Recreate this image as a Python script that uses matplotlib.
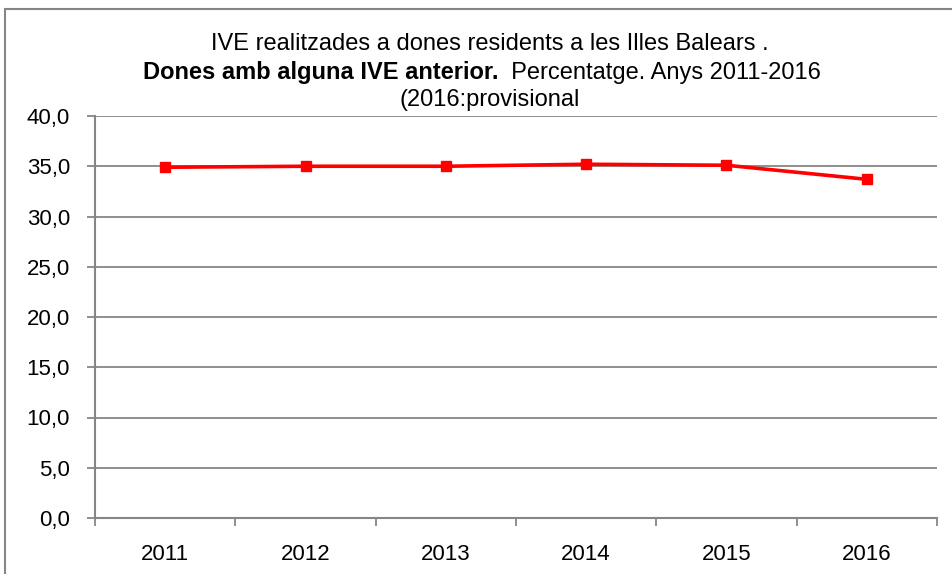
import matplotlib
matplotlib.use('Agg')
import matplotlib.pyplot as plt
from matplotlib.patches import Rectangle
import numpy as np

years = ['2011', '2012', '2013', '2014', '2015', '2016']
values = [34.9, 35.0, 35.0, 35.2, 35.1, 33.7]
yticks = [0, 5, 10, 15, 20, 25, 30, 35, 40]

grey = '#868686'
plt.rcParams['font.family'] = ['Liberation Sans', 'DejaVu Sans']

fig = plt.figure(figsize=(9.52, 5.74), dpi=100)
fig.patches.append(Rectangle((5/952, -0.1), 1.2, 1 - 9/574 + 0.1, transform=fig.transFigure,
                             fill=False, edgecolor=grey, linewidth=1.5))

ax = fig.add_axes([95/952, 56/574, 842/952, 402/574])
x = np.arange(len(years))
ax.plot(x, values, color='red', linewidth=2.6, marker='s', markersize=7, zorder=3)

ax.set_xlim(-0.5, len(years) - 0.5)
ax.set_ylim(0, 40)
ax.set_yticks(yticks)
ax.yaxis.set_major_formatter(plt.FuncFormatter(lambda v, p: ('%.1f' % v).replace('.', ',')))
ax.grid(axis='y', color=grey, linewidth=1.3)
ax.set_axisbelow(True)

ax.set_xticks(np.arange(-0.5, len(years)))
ax.set_xticklabels([])
ax.set_xticks(x, minor=True)
ax.set_xticklabels(years, minor=True)
ax.tick_params(axis='x', which='minor', length=0, pad=19, labelsize=16)
ax.tick_params(axis='x', which='major', length=6, color=grey, width=1.3)
ax.tick_params(axis='y', length=6, color=grey, width=1.3, labelsize=16, pad=12)

for s in ['top', 'right']:
    ax.spines[s].set_visible(False)
for s in ['left', 'bottom']:
    ax.spines[s].set_color(grey)
    ax.spines[s].set_linewidth(1.5)

fs = 17
fig.text(490/952, 1 - 44/574, 'IVE realitzades a dones residents a les Illes Balears .',
         ha='center', va='center', fontsize=fs)
fig.text(490/952, 1 - 100/574, '(2016:provisional', ha='center', va='center', fontsize=fs)

# second title line: bold part + regular part, centred together
t1 = fig.text(0, 1 - 73/574, 'Dones amb alguna IVE anterior.', ha='left', va='center',
              fontsize=fs, fontweight='bold')
t2 = fig.text(0, 1 - 73/574, '  Percentatge. Anys 2011-2016', ha='left', va='center', fontsize=fs)
fig.canvas.draw()
r = fig.canvas.get_renderer()
w1 = t1.get_window_extent(r).width
w2 = t2.get_window_extent(r).width
start = 482 - (w1 + w2) / 2
t1.set_x(start / 952)
t2.set_x((start + w1) / 952)

fig.savefig('out.png', dpi=100)
